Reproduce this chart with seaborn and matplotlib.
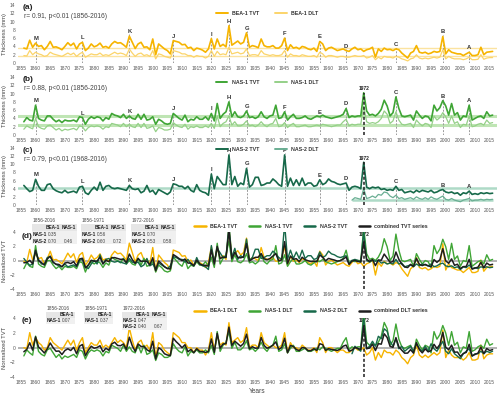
import numpy as np
import pandas as pd
import matplotlib
matplotlib.use("Agg")
import matplotlib.pyplot as plt
import seaborn as sns
from matplotlib.patches import Rectangle
from matplotlib.lines import Line2D

# ---------------- data ----------------
years = list(range(1856, 2017))
years_nas2_dlt = list(range(1968, 2017))

bea1_tvt = [3.6, 3.4, 5.5, 3.8, 4.8, 4.0, 4.2, 3.2, 4.0, 5.2,
            3.8, 3.9, 3.6, 3.2, 4.0, 4.9, 4.2, 4.8, 3.4, 4.6,
            5.0, 3.0, 3.6, 4.6, 3.9, 4.2, 4.8, 3.8, 4.0, 3.6,
            4.6, 5.2, 4.8, 4.9, 4.4, 3.8, 6.5, 5.0, 3.5, 4.6,
            5.0, 3.8, 3.9, 3.2, 5.8, 2.0, 4.6, 4.0, 3.4, 3.0,
            2.2, 5.4, 5.2, 5.0, 4.4, 4.5, 3.6, 3.8, 3.0, 3.6,
            3.4, 3.1, 2.6, 3.4, 5.9, 3.4, 5.8, 4.0, 4.5, 3.9,
            9.0, 4.3, 4.8, 5.3, 4.6, 5.0, 7.3, 3.8, 4.2, 4.0,
            3.7, 5.8, 4.2, 3.9, 3.9, 4.2, 3.6, 3.6, 4.2, 6.0,
            3.0, 4.4, 3.6, 3.8, 3.4, 4.0, 3.8, 3.4, 3.2, 3.6,
            2.8, 5.2, 4.6, 3.0, 3.6, 3.8, 3.4, 3.0, 3.2, 3.4,
            3.0, 2.8, 3.4, 3.8, 3.2, 3.4, 2.8, 3.2, 3.4, 3.8,
            1.4, 3.4, 2.8, 3.6, 3.2, 3.3, 3.0, 3.4, 3.2, 2.4,
            1.8, 1.2, 2.4, 2.8, 4.2, 2.6, 2.4, 2.6, 2.2, 2.4,
            2.8, 2.6, 2.8, 6.4, 2.2, 3.2, 2.6, 2.4, 2.2, 2.2,
            1.8, 2.2, 2.6, 1.8, 1.8, 2.0, 3.8, 2.0, 2.6, 2.7,
            2.8]

bea1_dlt = [1.8, 1.7, 3.0, 2.0, 2.6, 2.2, 2.0, 1.6, 1.8, 2.6,
            2.2, 2.0, 1.8, 1.6, 2.0, 2.4, 2.0, 2.4, 1.6, 2.2,
            2.6, 1.4, 1.8, 2.2, 2.0, 2.0, 2.4, 1.8, 2.0, 1.8,
            2.2, 2.6, 2.2, 2.4, 2.2, 1.8, 3.4, 2.4, 1.6, 2.2,
            2.4, 1.8, 2.0, 1.6, 3.0, 1.0, 2.2, 2.0, 1.6, 1.4,
            1.2, 3.0, 2.8, 2.6, 2.2, 2.2, 1.8, 1.8, 1.4, 1.8,
            1.6, 1.6, 1.2, 1.6, 3.0, 1.6, 2.8, 2.0, 2.2, 2.0,
            3.8, 2.2, 2.4, 2.6, 2.2, 2.4, 3.4, 1.8, 2.0, 2.0,
            1.8, 3.0, 2.2, 2.0, 1.8, 2.0, 1.8, 1.8, 2.0, 3.0,
            1.4, 2.2, 1.8, 1.8, 1.6, 2.0, 1.8, 1.6, 1.6, 1.8,
            1.4, 2.6, 2.2, 1.4, 1.8, 1.8, 1.6, 1.4, 1.6, 1.6,
            1.4, 1.4, 1.6, 1.8, 1.6, 1.6, 1.8, 1.2, 1.4, 1.8,
            0.8, 1.4, 1.0, 1.6, 1.4, 1.4, 1.2, 1.6, 1.4, 1.0,
            0.8, 0.5, 1.0, 1.2, 2.0, 1.2, 1.0, 1.2, 1.0, 1.2,
            1.4, 1.2, 1.4, 3.2, 1.0, 1.6, 1.2, 1.0, 1.0, 1.0,
            0.8, 1.0, 1.4, 0.8, 0.8, 0.9, 2.0, 0.9, 1.2, 1.3,
            1.3]

nas1_tvt = [3.2, 4.2, 3.6, 3.4, 7.2, 4.0, 3.6, 3.4, 4.6, 4.6,
            3.8, 3.2, 3.6, 3.0, 3.6, 3.4, 3.4, 3.6, 3.2, 4.4,
            4.2, 2.6, 3.8, 4.4, 4.0, 4.4, 4.2, 3.4, 4.2, 3.8,
            5.2, 4.8, 4.6, 4.2, 5.0, 4.0, 4.6, 4.0, 3.8, 5.0,
            3.8, 5.0, 3.6, 3.8, 4.4, 2.6, 3.8, 3.4, 2.8, 2.6,
            2.8, 5.2, 4.6, 4.0, 3.6, 4.8, 3.2, 3.8, 3.6, 4.4,
            3.8, 3.8, 4.4, 3.6, 5.2, 3.4, 7.6, 4.0, 5.0, 5.6,
            8.0, 4.4, 5.6, 4.4, 4.2, 4.6, 5.8, 4.2, 4.4, 4.0,
            4.4, 5.6, 4.4, 4.0, 4.6, 4.8, 7.2, 4.0, 4.2, 5.6,
            3.6, 4.4, 5.0, 4.0, 4.0, 4.2, 4.6, 4.0, 3.8, 4.2,
            4.6, 4.4, 4.8, 4.4, 4.2, 4.0, 4.2, 4.4, 4.6, 5.0,
            6.4, 4.2, 4.6, 4.4, 4.6, 4.6, 10.2, 5.8, 4.8, 5.0,
            4.6, 5.2, 6.2, 8.4, 7.0, 4.6, 5.4, 9.2, 6.4, 4.6,
            4.4, 4.6, 4.8, 3.6, 5.8, 4.8, 4.0, 4.6, 4.4, 3.4,
            7.2, 5.8, 6.6, 8.3, 7.0, 4.8, 7.6, 4.8, 5.4, 3.6,
            4.6, 4.4, 7.2, 3.6, 4.0, 4.4, 4.6, 4.0, 5.6, 4.6,
            4.8]

nas1_dlt = [1.4, 2.2, 1.8, 1.5, 4.0, 2.0, 1.6, 1.4, 2.2, 2.4,
            1.8, 1.2, 1.6, 1.0, 1.4, 1.2, 1.4, 1.6, 1.2, 2.2,
            2.0, 1.0, 1.8, 2.2, 2.0, 2.2, 2.0, 1.4, 2.0, 1.8,
            2.8, 2.6, 2.4, 2.0, 2.8, 2.0, 2.6, 2.0, 1.8, 2.8,
            1.8, 2.8, 1.6, 1.8, 2.2, 0.8, 1.8, 1.6, 1.2, 1.2,
            1.4, 3.0, 2.4, 2.0, 1.8, 2.6, 1.4, 2.0, 1.8, 2.2,
            1.8, 1.8, 2.2, 1.8, 2.8, 1.6, 4.6, 2.0, 2.8, 3.2,
            4.6, 2.4, 3.2, 2.2, 2.2, 2.6, 3.4, 2.2, 2.4, 2.0,
            2.4, 3.2, 2.4, 2.0, 2.6, 2.8, 4.0, 2.0, 2.2, 3.0,
            1.8, 2.4, 2.8, 2.0, 2.0, 2.2, 2.4, 2.0, 2.0, 2.2,
            2.4, 2.2, 2.6, 2.4, 2.2, 2.0, 2.2, 2.4, 2.4, 3.2,
            3.8, 2.2, 2.6, 2.4, 2.6, 2.6, 7.0, 3.2, 2.8, 3.0,
            2.8, 3.2, 4.0, 5.8, 5.0, 2.8, 3.4, 5.6, 3.6, 2.6,
            2.4, 2.6, 2.8, 1.8, 3.6, 2.8, 2.2, 2.8, 2.6, 1.8,
            4.6, 3.6, 4.2, 5.4, 4.4, 2.8, 4.6, 2.8, 3.2, 1.8,
            2.6, 2.4, 4.6, 2.0, 2.2, 2.6, 2.8, 2.4, 3.6, 2.8,
            3.0]

nas2_tvt = [4.8, 4.0, 3.3, 3.6, 6.3, 4.6, 3.6, 3.6, 5.0, 5.2,
            4.0, 3.5, 3.2, 3.0, 3.6, 3.0, 3.2, 3.4, 3.0, 4.4,
            4.6, 3.0, 2.6, 3.6, 4.4, 3.6, 5.6, 3.6, 4.6, 4.8,
            4.2, 4.0, 4.2, 4.0, 3.8, 3.6, 4.8, 4.0, 3.8, 4.0,
            3.0, 3.4, 4.8, 3.2, 3.6, 2.6, 3.8, 3.4, 3.0, 2.6,
            3.2, 5.2, 5.0, 4.6, 4.6, 4.0, 4.6, 3.6, 3.2, 5.0,
            3.6, 3.2, 3.0, 2.4, 7.6, 4.0, 7.0, 6.0, 5.0, 5.0,
            12.3, 5.0, 7.0, 4.6, 5.4, 5.0, 9.0, 4.4, 5.0, 6.8,
            6.8, 4.8, 5.0, 5.4, 5.4, 6.4, 5.8, 5.0, 4.6, 12.3,
            4.6, 6.6, 4.8, 6.2, 4.8, 6.6, 4.8, 5.4, 5.4, 4.6,
            4.8, 6.2, 5.0, 5.4, 6.4, 5.8, 5.6, 5.2, 5.0, 5.2,
            5.4, 3.6, 4.4, 4.6, 4.4, 4.0, 10.5, 4.4, 4.0, 4.4,
            4.2, 4.4, 3.8, 4.0, 3.6, 3.8, 3.6, 4.6, 3.6, 3.8,
            3.0, 3.2, 3.4, 3.0, 3.6, 3.2, 3.6, 3.4, 3.2, 3.6,
            3.0, 3.2, 3.6, 3.8, 3.2, 3.0, 3.2, 2.8, 3.0, 2.4,
            3.0, 2.8, 3.4, 2.6, 2.8, 2.6, 3.0, 2.8, 3.0, 2.8,
            2.9]

nas2_dlt = [1.2, 1.8, 1.6, 1.4, 4.0, 1.6, 1.8, 2.2,
            1.8, 2.6, 2.4, 3.2, 3.0, 2.2, 1.8, 2.4, 1.6, 1.8,
            1.4, 1.6, 1.8, 1.4, 2.0, 1.6, 1.4, 1.8, 1.4, 2.0,
            1.6, 1.4, 1.8, 2.2, 1.4, 1.2, 1.6, 1.2, 1.0, 0.8,
            1.2, 1.4, 1.6, 1.0, 1.2, 1.2, 1.4, 1.2, 1.4, 1.3,
            1.4]

event_years = [1860, 1876, 1892, 1907, 1920, 1926, 1932, 1945, 1957, 1966, 1983, 1999, 2008]
event_labels = ["M", "L", "K", "J", "I", "H", "G", "F", "E", "D", "C", "B", "A"]

bea1_means = [3.5, 1.8]
nas1_means = [4.6, 2.5]
nas2_tvt_mean = 4.1
nas2_dlt_mean = 1.3

corr_texts = ["r= 0.91, p<0.01 (1856-2016)",
              "r= 0.88, p<0.01 (1856-2016)",
              "r= 0.79, p<0.01 (1968-2016)"]

tables_tvt = [("1856-2016", ["BEA-1", "NAS-1"], [("NAS-1", ["0.35"]), ("NAS-2", ["0.70", "0.46"])]),
              ("1856-1971", ["BEA-1", "NAS-1"], [("NAS-1", ["0.56"]), ("NAS-2", ["0.60", "0.72"])]),
              ("1972-2016", ["BEA-1", "NAS-1"], [("NAS-1", ["0.70"]), ("NAS-2", ["0.53", "0.58"])])]
tables_dlt = [("1856-2016", ["BEA-1"], [("NAS-1", ["0.07"])]),
              ("1856-1971", ["BEA-1"], [("NAS-1", ["0.37"])]),
              ("1972-2016", ["BEA-1", "NAS-1"], [("NAS-1", ["0.47"]), ("NAS-2", ["0.40", "0.67"])])]

for s in (bea1_tvt, bea1_dlt, nas1_tvt, nas1_dlt, nas2_tvt):
    assert len(s) == len(years), len(s)
assert len(nas2_dlt) == len(years_nas2_dlt)

# ---------------- style ----------------
c_bea, c_bea_l, c_bea_m = "#F6B400", "#FBD46A", "#FBE3A0"
c_nas1, c_nas1_l, c_nas1_m = "#3FA535", "#95D088", "#BFE5B4"
c_nas2, c_nas2_l, c_nas2_m = "#17694A", "#6AAE93", "#AEDAC7"
c_comb = "#1E1E1E"

sns.set_theme(style="white")
plt.rcParams["font.family"] = ["Liberation Sans", "DejaVu Sans"]
plt.rcParams["text.color"] = "#333333"

W, H = 500, 396
fig = plt.figure(figsize=(W / 100, H / 100), dpi=100)


def add_ax(top, bottom):
    return fig.add_axes([18 / W, 1 - bottom / H, 479 / W, (bottom - top) / H])


def fpx(x, y):
    return x / W, 1 - y / H


def style_ax(ax, ylim, yticks, ylabel):
    ax.set_xlim(1854, 2017.5)
    ax.set_ylim(*ylim)
    ax.set_xticks(range(1855, 2016, 5))
    ax.set_yticks(yticks)
    ax.tick_params(length=0, labelsize=3.5, labelcolor="#555555", pad=2)
    ax.set_xlabel("")
    ax.set_ylabel(ylabel, fontsize=4.2, color="#444444", labelpad=2)
    ax.set_facecolor("none")
    sns.despine(ax=ax, left=True, bottom=True)


def thick_panel(ax, tvt, dlt, dlt_years, cols, names, tag, rtext, leg_y):
    c_t, c_d, c_m = cols
    sns.lineplot(x=years, y=tvt, ax=ax, color=c_t, lw=1.2, zorder=4)
    sns.lineplot(x=dlt_years, y=dlt, ax=ax, color=c_d, lw=0.9, zorder=3)
    for yr, lab in zip(event_years, event_labels):
        v = tvt[years.index(yr)]
        ax.vlines(yr, 0, v + 0.4, colors="#9a9a9a", lw=0.7, linestyles=(0, (2, 1.5)), zorder=2)
        ax.text(yr, v + 1.1, lab, ha="center", va="center", fontsize=4.2,
                fontweight="bold", color="#333333")
    ax.text(0.01, 0.95, tag, transform=ax.transAxes, fontsize=6, fontweight="bold",
            va="center", color="#222222")
    ax.text(0.012, 0.80, rtext, transform=ax.transAxes, fontsize=4.8, va="center",
            color="#444444")
    handles = [Line2D([], [], color=c_t, lw=1.4), Line2D([], [], color=c_d, lw=1.4)]
    ax.legend(handles, names, loc="center", bbox_to_anchor=(0.52, leg_y), ncol=2,
              frameon=False, prop={"size": 3.8, "weight": "bold"}, handlelength=2.2,
              columnspacing=3.0, handletextpad=0.8)
    style_ax(ax, (0, 14), range(0, 15, 2), "Thickness (mm)")


def mark_1972(ax, top, label_y):
    ax.vlines(1972, 0, top, colors=c_comb, lw=1.1, linestyles=(0, (2, 1.3)), zorder=6)
    ax.text(1972, label_y, "1972", ha="center", va="center", fontsize=3.6,
            fontweight="bold", color="#222222")


# (a)
ax_a = add_ax(5, 63)
ax_a.axhline(bea1_means[0], color=c_bea_m, lw=1.0, zorder=1)
ax_a.axhline(bea1_means[1], color=c_bea_m, lw=1.0, zorder=1)
thick_panel(ax_a, bea1_tvt, bea1_dlt, years, (c_bea, c_bea_l, c_bea_m),
            ["BEA-1 TVT", "BEA-1 DLT"], "(a)", corr_texts[0], 0.86)

# (b)
ax_b = add_ax(77, 135)
ax_b.axhline(nas1_means[0], color=c_nas1_m, lw=2.2, zorder=1)
ax_b.axhline(nas1_means[1], color=c_nas1_m, lw=2.2, zorder=1)
thick_panel(ax_b, nas1_tvt, nas1_dlt, years, (c_nas1, c_nas1_l, c_nas1_m),
            ["NAS-1 TVT", "NAS-1 DLT"], "(b)", corr_texts[1], 0.9)
mark_1972(ax_b, nas1_tvt[years.index(1972)], nas1_tvt[years.index(1972)] + 1.0)

# (c)
ax_c = add_ax(148, 205)
ax_c.axhline(nas2_tvt_mean, color=c_nas2_m, lw=1.8, zorder=1)
ax_c.hlines(nas2_dlt_mean, 1968, 2016, color=c_nas2_m, lw=1.8, zorder=1)
thick_panel(ax_c, nas2_tvt, nas2_dlt, years_nas2_dlt, (c_nas2, c_nas2_l, c_nas2_m),
            ["NAS-2 TVT", "NAS-2 DLT"], "(c)", corr_texts[2], 0.98)
mark_1972(ax_c, nas2_tvt[years.index(1972)], nas2_tvt[years.index(1972)] + 1.0)


# normalised series
def zscore(vals, yrs):
    s = pd.Series(vals, index=yrs, dtype=float)
    return ((s - s.mean()) / s.std()).reindex(years)


z_tvt = pd.DataFrame({"BEA-1 TVT": zscore(bea1_tvt, years),
                      "NAS-1 TVT": zscore(nas1_tvt, years),
                      "NAS-2 TVT": zscore(nas2_tvt, years)})
z_tvt["combined TVT series"] = z_tvt.mean(axis=1)
z_dlt = pd.DataFrame({"BEA-1 DLT": zscore(bea1_dlt, years),
                      "NAS-1 DLT": zscore(nas1_dlt, years),
                      "NAS-2 DLT": zscore(nas2_dlt, years_nas2_dlt)})
z_dlt["combined DLT series"] = z_dlt.mean(axis=1)

norm_cols = [c_bea, c_nas1, c_nas2, c_comb]


def norm_panel(ax, df, tag, leg_y, label_1972_y):
    ax.axhline(0, color="#b3b3b3", lw=1.4, zorder=1)
    handles = []
    for i, (name, col) in enumerate(zip(df.columns, norm_cols)):
        d = df[name].dropna()
        sns.lineplot(x=d.index, y=d.values, ax=ax, color=col, lw=1.0 if i < 3 else 1.1,
                     zorder=3 + i)
        handles.append(Line2D([], [], color=col, lw=1.8))
    ax.vlines(1972, -4, label_1972_y - 0.6, colors=c_comb, lw=1.1,
              linestyles=(0, (2, 1.3)), zorder=8)
    ax.text(1972, label_1972_y, "1972", ha="center", va="center", fontsize=3.6,
            fontweight="bold", color="#222222")
    ax.legend(handles, list(df.columns), loc="center", bbox_to_anchor=(0.612, leg_y),
              ncol=4, frameon=False, prop={"size": 3.8, "weight": "bold"},
              handlelength=2.2, columnspacing=2.2, handletextpad=0.8)
    style_ax(ax, (-4, 4), [-4, -2, 0, 2, 4], "Normalized TVT")
    fig.text(*tag[1], tag[0], fontsize=6, fontweight="bold", va="center",
             color="#222222")


ax_d = add_ax(232, 289)
norm_panel(ax_d, z_tvt, ("(d)", fpx(22, 237)), 1.105, 3.6)
ax_e = add_ax(318, 377)
norm_panel(ax_e, z_dlt, ("(e)", fpx(22, 320)), 1.12, 3.65)
ax_e.set_xlabel("Years", fontsize=4.8, color="#444444", labelpad=2)


# correlation tables
def draw_table(x0, y0, step, title, heads, rows):
    ncol = len(heads)
    offs = [19.5, 35.5][:ncol]
    right = x0 + offs[-1] + 8
    top = y0 + step / 2
    bottom = y0 + step * (len(rows) + 1) + step / 2
    fig.patches.append(Rectangle(fpx(x0 - 1.5, bottom), (right - x0 + 1.5) / W,
                                 (bottom - top) / H, transform=fig.transFigure,
                                 facecolor="#F0F0F0", edgecolor="none", zorder=0))
    fig.patches.append(Rectangle(fpx(x0 - 1.5, top + step), (right - x0 + 1.5) / W,
                                 step / H, transform=fig.transFigure,
                                 facecolor="#E6E6E6", edgecolor="none", zorder=0))
    fig.text(*fpx(x0, y0), title, fontsize=3.4, va="center", color="#444444")
    for h, o in zip(heads, offs):
        fig.text(*fpx(x0 + o, y0 + step), h, fontsize=3.4, fontweight="bold",
                 ha="center", va="center", color="#222222")
    for r, (rname, vals) in enumerate(rows):
        yy = y0 + step * (r + 2)
        fig.text(*fpx(x0, yy), rname, fontsize=3.4, fontweight="bold", va="center",
                 color="#222222")
        for v, o in zip(vals, offs):
            fig.text(*fpx(x0 + o, yy), v, fontsize=3.4, ha="center", va="center",
                     color="#444444")


for x0, tb in zip([33, 82, 132], tables_tvt):
    draw_table(x0, 221, 6.7, *tb)
for x0, tb in zip([47, 85, 123], tables_dlt):
    draw_table(x0, 309, 6.0, *tb)

fig.savefig("out.png", dpi=100)
